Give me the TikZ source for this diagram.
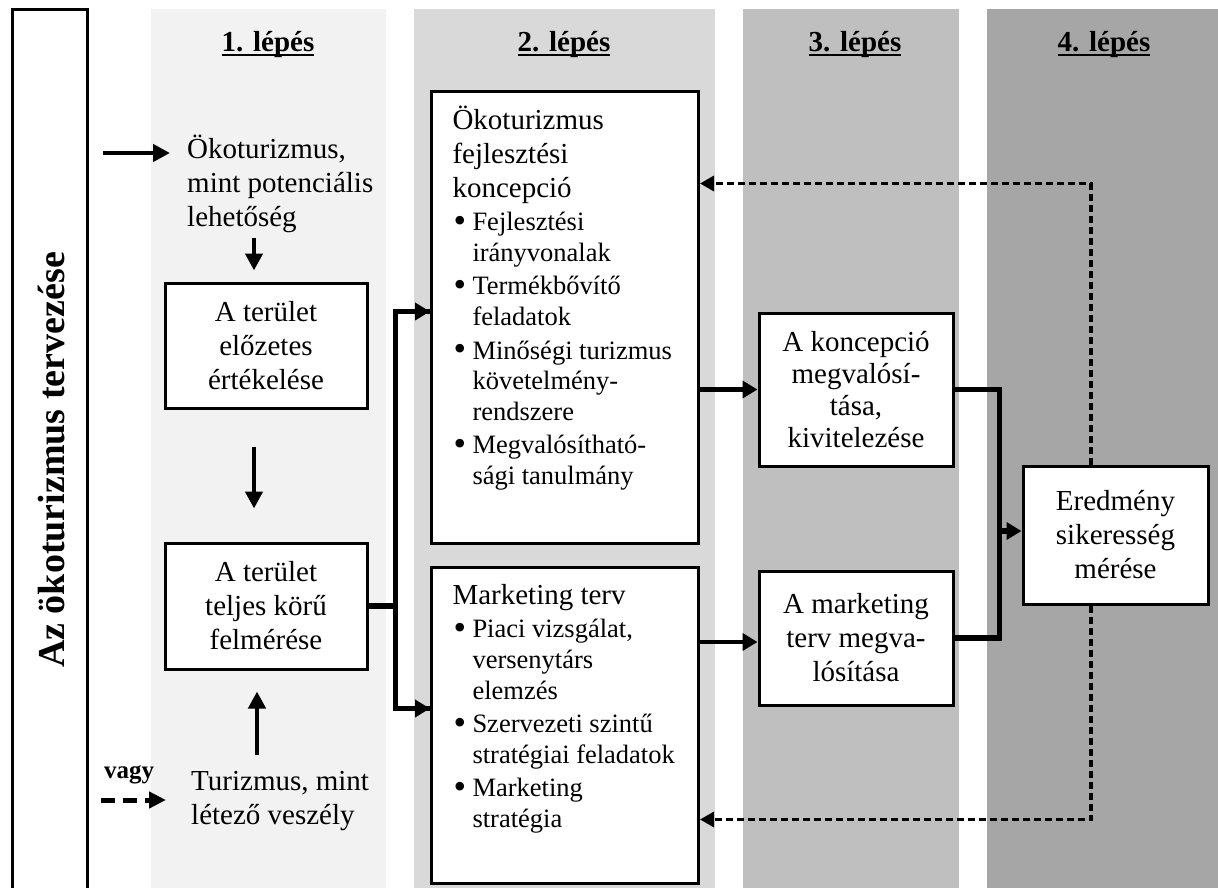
\documentclass[tikz,border=0pt]{standalone}
\usepackage{fontspec}
\usepackage{graphicx}
\setmainfont{Liberation Serif}
\usetikzlibrary{arrows.meta}
\definecolor{cola}{HTML}{F2F2F2}
\definecolor{colb}{HTML}{D9D9D9}
\definecolor{colc}{HTML}{BFBFBF}
\definecolor{cold}{HTML}{A6A6A6}
\newcommand\bitem{\hangindent=20pt\hangafter=1\makebox[20pt][l]{\hspace{1pt}\raisebox{-1.5pt}{\scalebox{1.35}{•}}}}
\newcommand\fmain{\fontsize{29}{34}\selectfont}
\newcommand\fitem{\fontsize{26.5}{30.8}\selectfont}
\newcommand\hdul[1]{\setbox0\hbox{#1}\rlap{\rule[-4pt]{\wd0}{1.8pt}}\box0}
\begin{document}
\begin{tikzpicture}[x=1pt,y=-1pt,
  every node/.style={inner sep=0pt},
  box/.style={draw,line width=3pt,fill=white,align=center,font=\fmain},
  bigbox/.style={draw,line width=3pt,fill=white,anchor=north west},
  head/.style={font=\fmain\bfseries},
  txt/.style={font=\fmain,align=left,anchor=west},
  arr/.style={line width=4.5pt,-{Triangle[length=17pt,width=17pt]}},
  conn/.style={line width=5.5pt,line join=miter},
  tip/.style={-{Triangle[length=15pt,width=17pt]}},
  fb/.style={line width=3.3pt,dash pattern=on 7pt off 4pt,-{Triangle[length=14pt,width=15pt]}},
]
\useasboundingbox (0,0) rectangle (1218,888);
\clip (0,0) rectangle (1218,888);
% column backgrounds
\fill[cola] (151,9) rectangle (386,888);
\fill[colb] (414,9) rectangle (715,888);
\fill[colc] (743,9) rectangle (959,888);
\fill[cold] (987,9) rectangle (1218,888);
% left frame
\draw[line width=3pt] (12,895) -- (12,10) -- (87,10) -- (87,895);
\node[rotate=90,font=\fontsize{38}{40}\selectfont\bfseries] (title) at (52,460) {Az ökoturizmus tervezése};
% headers
\node[head] (h1) at (268,45) {\hdul{1. lépés}};
\node[head] (h2) at (564,45) {\hdul{2. lépés}};
\node[head] (h3) at (855,45) {\hdul{3. lépés}};
\node[head] (h4) at (1104,45) {\hdul{4. lépés}};
% column 1
\node[txt] (pot) at (187,184) {Ökoturizmus,\\mint potenciális\\lehetőség};
\node[box,minimum width=202pt,minimum height=125pt] (b1) at (266,345.5) {A terület\\előzetes\\értékelése};
\node[box,minimum width=202pt,minimum height=126pt] (b2) at (266,606) {A terület\\teljes körű\\felmérése};
\node[txt] (tur) at (191,801) {Turizmus, mint\\létező veszély};
\node[font=\fontsize{25}{27}\selectfont\bfseries] (vagy) at (129,775) {vagy};
% column 2
\node[bigbox] (k) at (430,90) {\parbox[t][452pt][t]{267pt}{\raggedright\leftskip=21pt\parskip=2.5pt
{\fmain\rule{0pt}{38pt}Ökoturizmus\\fejlesztési\\koncepció\par}
{\fitem\bitem Fejlesztési\newline irányvonalak\par
\bitem Termékbővítő\newline feladatok\par
\bitem Minőségi turizmus\newline követelmény-\newline rendszere\par
\bitem Megvalósítható-\newline sági tanulmány\par}}};
\node[bigbox] (m) at (430,566) {\parbox[t][316pt][t]{267pt}{\raggedright\leftskip=21pt\parskip=2.5pt
{\fmain\rule{0pt}{37pt}Marketing terv\par}
{\fitem\bitem Piaci vizsgálat,\newline versenytárs\newline elemzés\par
\bitem Szervezeti szintű\newline stratégiai feladatok\par
\bitem Marketing\newline stratégia\par}}};
% column 3
\node[box,minimum width=194pt,minimum height=153pt,font=\fontsize{29}{32}\selectfont] (km) at (856,389.5) {A koncepció\\megvalósí-\\tása,\\kivitelezése};
\node[box,minimum width=194pt,minimum height=134pt] (mm) at (856,638) {A marketing\\terv megva-\\lósítása};
% column 4
\node[box,minimum width=185pt,minimum height=138pt] (e) at (1115.5,535) {Eredmény\\sikeresség\\mérése};
% arrows column 1
\coordinate (s1) at (103,153);
\draw[arr,shorten >=17pt] (s1) -- (s1 -| pot.west);
\coordinate (a1) at ([xshift=-12pt]b1.north);
\coordinate (t0) at (254,238);
\draw[arr,shorten >=11pt] (t0) -- (a1);
\draw[arr,shorten <=37pt,shorten >=33pt] (a1 |- b1.south) -- (a1 |- b2.north);
\coordinate (a2) at ([xshift=-9pt]b2.south);
\coordinate (t1) at (257,755);
\draw[arr,shorten >=21pt] (t1) -- (a2);
\coordinate (s2) at (101,800);
\draw[line width=5pt,dash pattern=on 14pt off 8pt,-{Triangle[length=17pt,width=16pt]},shorten >=25pt] (s2) -- (s2 -| tur.west);
% connectors
\draw[conn] (b2.east) -- ++(27,0) coordinate (j1) |- ([yshift=6pt]k.west) coordinate (kin);
\draw[conn] (j1) |- ([yshift=17pt]m.west) coordinate (min);
\draw[conn,tip] ([xshift=-1pt]kin) -- (kin);
\draw[conn,tip] ([xshift=-1pt]min) -- (min);
\draw[line width=4.5pt,tip] (km.west -| k.east) -- (km.west);
\draw[line width=4.5pt,tip] ([yshift=-4pt]mm.west -| m.east) -- ([yshift=-4pt]mm.west);
\draw[conn] (km.east) -- ++(45,0) coordinate (j2) -- (j2 |- mm.east) -- (mm.east);
\draw[conn,tip] ([yshift=4pt]j2 |- e.west) -- ([yshift=4pt]e.west);
% feedback
\coordinate (f1) at ([xshift=-24.5pt]e.north);
\coordinate (f2) at ([xshift=-24.5pt]e.south);
\draw[fb] (f1) |- ([yshift=134pt]k.east);
\draw[fb] (f2) |- ([yshift=-94pt]m.east);
\end{tikzpicture}
\end{document}
